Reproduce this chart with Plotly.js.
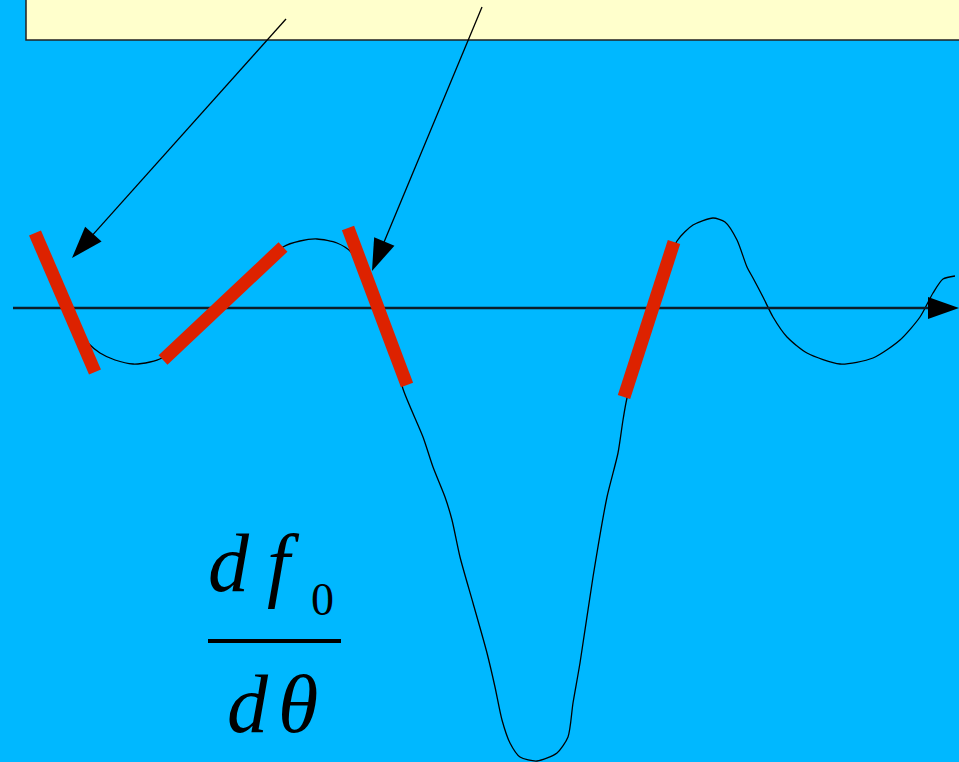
<!DOCTYPE html>
<html>
<head>
<meta charset="utf-8">
<script src="https://cdn.plot.ly/plotly-3.0.1.min.js"></script>
<style>html,body{margin:0;padding:0;background:#00B8FF;}#chart{width:959px;height:762px;}</style>
</head>
<body>
<div id="chart"></div>
<script>
// Curve: derivative df0/dθ (y measured from the horizontal axis, up positive)
const theta = [57,66,78,88,100,115,133,150,162,190,222,255,283,300,317,337,351,365,378,392,403,423,433,445,452,460,473,487,495,502,510,520,537,557,568,573,580,593,607,618,623,627,640,655,677,693,713,725,737,747,753,763,773,787,807,840,873,900,920,933,943,955];
const dfdtheta = [18,-2,-22,-35,-45,-52,-56,-54,-50,-27,3,35,61,67,69,65,56,33,3,-37,-81,-129,-159,-189,-212,-249,-295,-345,-379,-412,-435,-449,-453,-445,-429,-395,-355,-269,-189,-145,-112,-90,-47,3,67,83,90,86,68,41,30,11,-9,-29,-45,-56,-50,-32,-9,15,29,32];

// Tangent segments (x0, y0, x1, y1)
const tangentX0 = [35,163,348,624];
const tangentY0 = [75,-52,80,-89];
const tangentX1 = [95,283,407,674];
const tangentY1 = [-64,61,-77,66];

// Pointer arrows from the label box (start -> tip)
const arrowStartX = [286,482];
const arrowStartY = [289,301];
const arrowTipX = [72,372];
const arrowTipY = [50,37];

// Horizontal axis
const axisStartX = 13, axisTipX = 959;

function head(sx, sy, tx, ty, L, W) {
  const dx = tx - sx, dy = ty - sy;
  const n = Math.hypot(dx, dy);
  const ux = dx / n, uy = dy / n;
  const bx = tx - ux * L, by = ty - uy * L;
  return {x: [tx, bx - uy * W, bx + uy * W, tx], y: [ty, by + ux * W, by - ux * W, ty]};
}

const traces = [];
traces.push({x: theta, y: dfdtheta, mode: 'lines', line: {color: '#000', width: 1.3, shape: 'spline', smoothing: 0.7}, hoverinfo: 'skip'});
// axis
traces.push({x: [axisStartX, axisTipX - 20], y: [0, 0], mode: 'lines', line: {color: '#0b1e2a', width: 2.4}, hoverinfo: 'skip'});
const ah = head(axisStartX, 0, axisTipX, 0, 31, 11);
traces.push({x: ah.x, y: ah.y, mode: 'lines', fill: 'toself', fillcolor: '#000', line: {color: '#000', width: 0}, hoverinfo: 'skip'});
// tangents
for (let i = 0; i < tangentX0.length; i++) {
  traces.push({x: [tangentX0[i], tangentX1[i]], y: [tangentY0[i], tangentY1[i]], mode: 'lines', line: {color: '#DD2200', width: 13}, hoverinfo: 'skip'});
}
// pointer arrows
for (let i = 0; i < arrowStartX.length; i++) {
  const h = head(arrowStartX[i], arrowStartY[i], arrowTipX[i], arrowTipY[i], 32, 11);
  const sx = arrowTipX[i] - arrowStartX[i], sy = arrowTipY[i] - arrowStartY[i];
  const n = Math.hypot(sx, sy);
  traces.push({x: [arrowStartX[i], arrowTipX[i] - sx / n * 20], y: [arrowStartY[i], arrowTipY[i] - sy / n * 20], mode: 'lines', line: {color: '#000', width: 1.3}, hoverinfo: 'skip'});
  traces.push({x: h.x, y: h.y, mode: 'lines', fill: 'toself', fillcolor: '#000', line: {color: '#000', width: 0}, hoverinfo: 'skip'});
}

const serif = 'Liberation Serif, Times New Roman, serif';
const layout = {
  width: 959, height: 762,
  margin: {l: 0, r: 0, t: 0, b: 0},
  paper_bgcolor: '#00B8FF', plot_bgcolor: '#00B8FF',
  showlegend: false,
  xaxis: {range: [0, 959], visible: false, fixedrange: true},
  yaxis: {range: [-454, 308], visible: false, fixedrange: true},
  shapes: [
    {type: 'rect', layer: 'below', x0: 26, x1: 975, y0: 268, y1: 320, fillcolor: '#FFFFCC', line: {color: '#222', width: 1.5}},
    {type: 'line', x0: 208, x1: 341, y0: -333, y1: -333, line: {color: '#000', width: 4}}
  ],
  annotations: [
    {x: 229, y: 308 - 563, text: '<i>d</i>', showarrow: false, font: {family: serif, size: 82, color: '#000'}},
    {x: 283, y: 308 - 563, text: '<i>f</i>', showarrow: false, font: {family: serif, size: 82, color: '#000'}},
    {x: 322, y: 308 - 599, text: '0', showarrow: false, font: {family: serif, size: 46, color: '#000'}},
    {x: 248, y: 308 - 704, text: '<i>d</i>', showarrow: false, font: {family: serif, size: 82, color: '#000'}},
    {x: 298, y: 308 - 704, text: '<i>θ</i>', showarrow: false, font: {family: serif, size: 82, color: '#000'}}
  ]
};
Plotly.newPlot('chart', traces, layout, {displayModeBar: false, staticPlot: true});
</script>
</body>
</html>
